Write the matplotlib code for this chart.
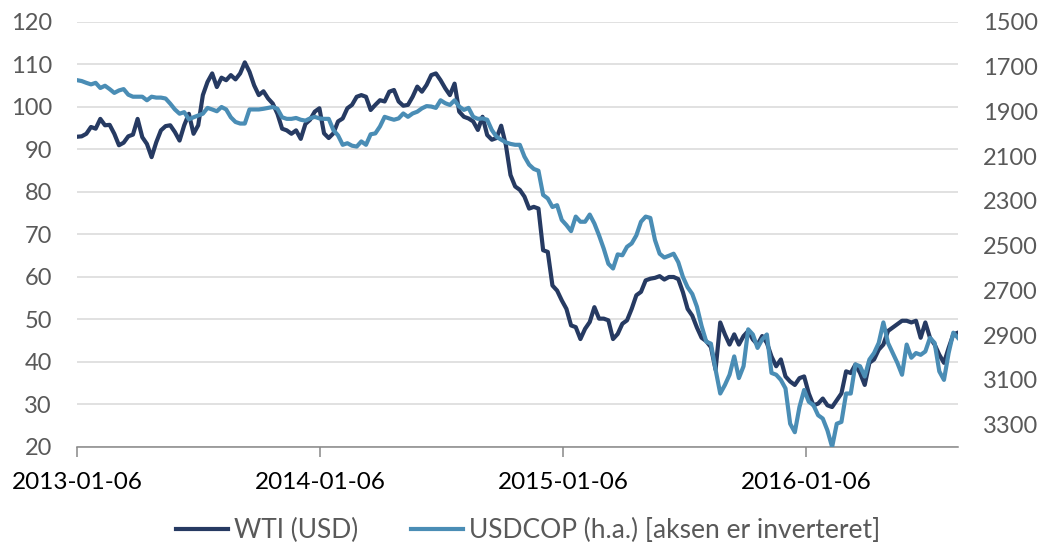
import numpy as np
import pandas as pd
import matplotlib
matplotlib.use("Agg")
import matplotlib.pyplot as plt
import matplotlib.dates as mdates

plt.rcParams['font.family'] = ['Lato', 'DejaVu Sans']

# Ugentlige observationer fra 2013-01-06
dates = pd.date_range("2013-01-06", periods=190, freq="7D")

wti = [
    93.0, 93.1, 93.7, 95.3, 94.9, 97.2, 95.7, 95.8, 93.7, 91.0,
    91.6, 93.1, 93.5, 97.2, 92.9, 91.3, 88.2, 91.7, 94.5, 95.5,
    95.7, 94.1, 92.1, 95.7, 98.4, 93.7, 95.7, 102.8, 105.9, 107.9,
    104.7, 106.9, 106.3, 107.5, 106.5, 107.9, 110.5, 108.3, 105.1, 102.8,
    103.7, 102.0, 100.8, 98.4, 94.9, 94.5, 93.7, 94.5, 92.5, 96.0,
    97.0, 98.9, 99.7, 93.8, 92.7, 93.8, 96.6, 97.3, 99.7, 100.5,
    102.4, 102.8, 102.4, 99.3, 100.5, 101.6, 101.3, 103.6, 104.0, 101.3,
    100.3, 100.5, 102.4, 104.8, 103.6, 105.2, 107.5, 107.9, 106.3, 104.4,
    102.8, 105.5, 98.9, 97.7, 97.3, 96.6, 94.6, 97.7, 93.4, 92.3,
    92.7, 95.6, 91.1, 84.0, 81.3, 80.5, 78.9, 76.1, 76.5, 76.1,
    66.3, 65.9, 58.0, 56.8, 54.5, 52.5, 48.6, 48.2, 45.4, 47.8,
    49.4, 52.9, 50.2, 50.2, 49.8, 45.4, 46.6, 49.0, 49.8, 52.5,
    55.7, 56.5, 59.2, 59.6, 59.8, 60.2, 59.4, 60.0, 60.0, 59.5,
    56.4, 52.5, 50.9, 48.1, 45.7, 44.9, 43.5, 38.2, 49.3, 46.5,
    44.1, 46.5, 44.1, 46.1, 47.3, 45.3, 44.1, 46.1, 44.5, 41.3,
    39.0, 40.6, 36.6, 35.4, 34.6, 36.2, 36.6, 32.6, 29.8, 30.2,
    31.4, 29.8, 29.4, 31.0, 32.6, 37.8, 37.4, 39.4, 37.4, 34.6,
    39.8, 40.6, 42.9, 44.1, 47.3, 48.1, 48.9, 49.7, 49.7, 49.3,
    49.7, 45.7, 49.3, 45.7, 44.1, 41.7, 39.8, 43.3, 46.5, 46.9,
]

usdcop = [
    1760, 1764, 1772, 1779, 1772, 1795, 1785, 1800, 1817, 1806,
    1800, 1825, 1834, 1834, 1834, 1850, 1834, 1838, 1838, 1842,
    1865, 1891, 1910, 1903, 1935, 1926, 1918, 1910, 1884, 1891,
    1899, 1880, 1891, 1926, 1947, 1954, 1954, 1891, 1891, 1891,
    1888, 1884, 1880, 1888, 1926, 1933, 1933, 1929, 1937, 1941,
    1931, 1924, 1931, 1933, 1933, 1983, 2007, 2049, 2042, 2053,
    2057, 2034, 2049, 2002, 1998, 1967, 1924, 1931, 1937, 1931,
    1909, 1924, 1909, 1901, 1886, 1876, 1878, 1884, 1850, 1863,
    1871, 1850, 1878, 1893, 1884, 1924, 1933, 1931, 1937, 1983,
    2013, 2026, 2038, 2045, 2049, 2049, 2102, 2138, 2157, 2165,
    2273, 2289, 2327, 2319, 2385, 2408, 2435, 2370, 2393, 2393,
    2361, 2401, 2454, 2513, 2581, 2602, 2539, 2543, 2505, 2490,
    2454, 2393, 2370, 2376, 2475, 2536, 2553, 2545, 2536, 2574,
    2640, 2686, 2716, 2773, 2859, 2929, 2938, 3054, 3161, 3123,
    3077, 2995, 3092, 3039, 2874, 2897, 2957, 2919, 2897, 3069,
    3077, 3100, 3138, 3296, 3334, 3221, 3145, 3198, 3213, 3258,
    3273, 3326, 3400, 3296, 3288, 3161, 3161, 3031, 3039, 3085,
    3009, 2980, 2935, 2843, 2935, 2980, 3024, 3077, 2942, 3001,
    2980, 2988, 2973, 2912, 2935, 3062, 3100, 2980, 2889, 2912,
]

left_ticks = list(range(20, 121, 10))
right_ticks = list(range(1500, 3301, 200))
x_ticks = ["2013-01-06", "2014-01-06", "2015-01-06", "2016-01-06"]

dark = "#263a62"
light = "#4a8db5"
grey = "#595959"

fig = plt.figure(figsize=(10.45, 5.5), dpi=100)
ax = fig.add_axes([0.0737, 0.1873, 0.843, 0.7727])
ax2 = ax.twinx()

ax.plot(dates, wti, color=dark, lw=3.0, solid_joinstyle="round", label="WTI (USD)")
ax2.plot(dates, usdcop, color=light, lw=3.0, solid_joinstyle="round",
         label="USDCOP (h.a.) [aksen er inverteret]")

ax.set_ylim(20, 120)
ax.set_yticks(left_ticks)
# højre akse er inverteret
ax2.set_ylim(3400, 1500)
ax2.set_yticks(right_ticks)

ax.set_xlim(dates[0], dates[-1])
ax.set_xticks(pd.to_datetime(x_ticks))
ax.xaxis.set_major_formatter(mdates.DateFormatter("%Y-%m-%d"))

ax.grid(axis="y", color="#d9d9d9", lw=1.1)
ax.set_axisbelow(True)

for a in (ax, ax2):
    for s in ("left", "right", "top", "bottom"):
        a.spines[s].set_visible(False)
ax.spines["bottom"].set_visible(True)
ax.spines["bottom"].set_color("#888888")
ax.spines["bottom"].set_linewidth(1.1)

ax.tick_params(axis="y", length=0, pad=18, labelsize=17, labelcolor=grey)
ax2.tick_params(axis="y", length=0, pad=18, labelsize=17, labelcolor=grey)
ax.tick_params(axis="x", length=7, width=1.1, color="#888888", pad=11,
               labelsize=17.5, labelcolor="black")

h1, l1 = ax.get_legend_handles_labels()
h2, l2 = ax2.get_legend_handles_labels()
leg = fig.legend(h1 + h2, l1 + l2, loc="center", bbox_to_anchor=(0.505, 0.036),
                 ncol=2, frameon=False, fontsize=19, handlelength=2.0,
                 handletextpad=0.2, columnspacing=2.0)
for t in leg.get_texts():
    t.set_color(grey)

fig.savefig("out.png", dpi=100)
